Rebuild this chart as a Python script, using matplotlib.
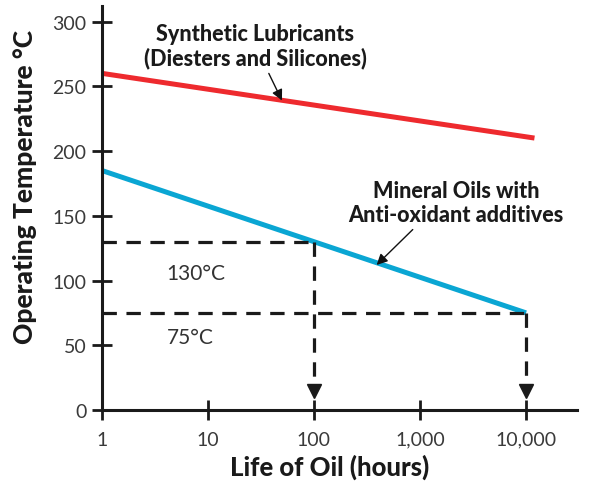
import matplotlib.pyplot as plt
import numpy as np

# data
hours_synth = [1, 12000]
temp_synth = [260, 210]
hours_mineral = [1, 10000]
temp_mineral = [185, 75]
mark_hours = [100, 10000]
mark_temps = [130, 75]
mark_labels = ["130°C", "75°C"]
xticks = [1, 10, 100, 1000, 10000]
xtick_labels = ["1", "10", "100", "1,000", "10,000"]
yticks = [0, 50, 100, 150, 200, 250, 300]

plt.rcParams['font.family'] = ['Lato', 'DejaVu Sans']

fig = plt.figure(figsize=(5.93, 4.85), dpi=100)
ax = fig.add_axes([0.1715, 0.1526, 0.801, 0.833])

ax.plot(hours_synth, temp_synth, color='#EE2A2E', lw=3.6, solid_capstyle='butt')
ax.plot(hours_mineral, temp_mineral, color='#0AA6D3', lw=3.6, solid_capstyle='butt')

# dashed guide lines and arrow markers
dash = dict(color='#1a1a1a', lw=2.3, dashes=(4.5, 3))
for h, t in zip(mark_hours, mark_temps):
    ax.plot([1, h], [t, t], **dash)
    ax.plot([h, h], [t, 18], **dash)
    ax.plot(h, 15, marker='v', color='#1a1a1a', ms=10, clip_on=False)

ax.text(4.1, 106, mark_labels[0], fontsize=15, color='#333', va='center', ha='left')
ax.text(4.1, 56, mark_labels[1], fontsize=15, color='#333', va='center', ha='left')

# annotations
ax.annotate("Synthetic Lubricants\n(Diesters and Silicones)",
            xy=(50, 239), xytext=(28, 264), ha='center', va='bottom',
            fontsize=15.5, fontweight='black', color='#1a1a1a', linespacing=1.15,
            arrowprops=dict(arrowstyle='-|>', color='#111', lw=1, mutation_scale=16, shrinkA=2, shrinkB=0))
ax.annotate("Mineral Oils with\nAnti-oxidant additives",
            xy=(390, 112), xytext=(2200, 143), ha='center', va='bottom',
            fontsize=15.5, fontweight='black', color='#1a1a1a', linespacing=1.15,
            arrowprops=dict(arrowstyle='-|>', color='#111', lw=1, mutation_scale=16, shrinkA=2, shrinkB=0,
                            relpos=(0.32, 0)))

ax.set_xscale('log')
ax.set_xlim(1, 30000)
ax.set_ylim(0, 312)
ax.set_xticks(xticks)
ax.set_xticklabels(xtick_labels)
ax.minorticks_off()
ax.set_yticks(yticks)

for s in ['top', 'right']:
    ax.spines[s].set_visible(False)
for s in ['left', 'bottom']:
    ax.spines[s].set_linewidth(2.2)
    ax.spines[s].set_color('#1a1a1a')

ax.tick_params(direction='inout', length=14, width=2, color='#1a1a1a',
               labelsize=14, labelcolor='#3a3a3a')
ax.tick_params(axis='x', pad=8)
ax.tick_params(axis='y', pad=4)

ax.set_xlabel("Life of Oil (hours)", fontsize=18.5, fontweight='black', color='#1a1a1a')
ax.set_ylabel("Operating Temperature °C", fontsize=19, fontweight='black', color='#1a1a1a')
ax.xaxis.set_label_coords(0.48, -0.139)
ax.yaxis.set_label_coords(-0.161, 0.554)
ax.xaxis.label.set_va('center')
ax.yaxis.label.set_va('center')

fig.savefig("out.png", dpi=100)
